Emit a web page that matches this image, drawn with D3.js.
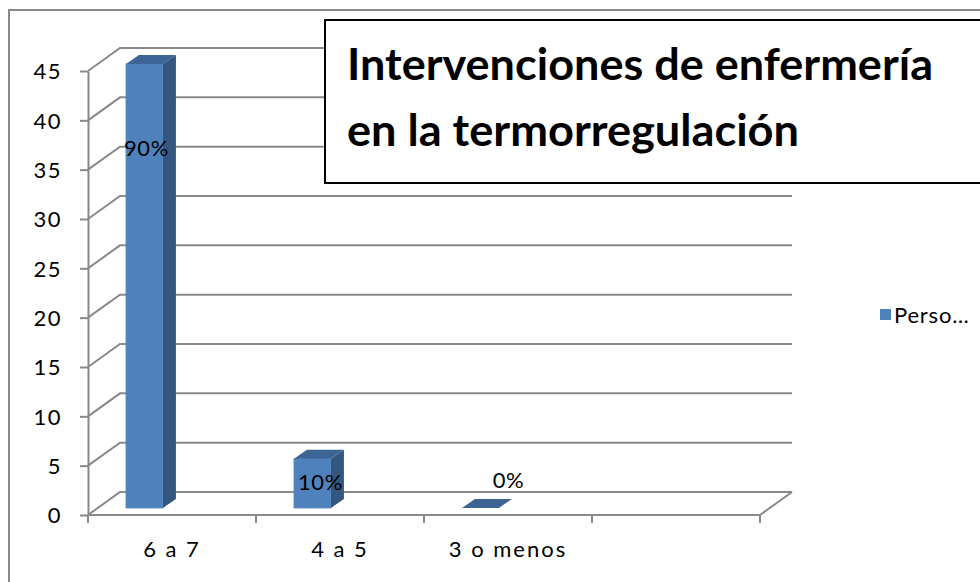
<!DOCTYPE html>
<html>
<head>
<meta charset="utf-8">
<script src="https://cdn.jsdelivr.net/npm/d3@7"></script>
<style>
  html, body { margin: 0; padding: 0; background: #fff; }
  svg { display: block; }
  text { font-family: Lato, "Noto Sans", sans-serif; }
</style>
</head>
<body>
<svg id="chart" width="980" height="582"></svg>
<script>
// ---- data ----
const categories = ["6 a 7", "4 a 5", "3 o menos"];
const values = [45, 5, 0];
const valueLabels = ["90%", "10%", "0%"];
const yTicks = [0, 5, 10, 15, 20, 25, 30, 35, 40, 45];
const seriesName = "Perso…";
const titleLines = ["Intervenciones de enfermería", "en la termorregulación"];

// ---- layout ----
const svg = d3.select("#chart");
const FONT = "Lato, 'Noto Sans', sans-serif";
const gridColor = "#898989";
const depth = { dx: 32, dy: -23 };       // back wall offset
const barDepth = { dx: 13, dy: -9 };     // bar depth
const barLift = 7;                       // bar base sits inside the floor

const slots = categories.concat([""]);   // 4th empty slot as in the original
const x = d3.scaleBand().domain(slots).range([88, 760]).padding(0);
const y = d3.scaleLinear().domain([0, 45]).range([515, 71]);

// outer chart border
svg.append("rect").attr("x", 9).attr("y", 10).attr("width", 1000).attr("height", 600)
  .attr("fill", "#fff").attr("stroke", gridColor).attr("stroke-width", 2);

// gridlines (side wall diagonal + back wall)
const gGrid = svg.append("g").attr("fill", "none").attr("stroke", gridColor).attr("stroke-width", 2);
const x0 = x.range()[0], x1 = x.range()[1];
yTicks.forEach(v => {
  const yy = y(v);
  gGrid.append("path").attr("d",
    `M${x0},${yy} L${x0 + depth.dx},${yy + depth.dy} L${x1 + depth.dx},${yy + depth.dy}`);
});
// floor front edge + right diagonal
gGrid.append("path").attr("d",
  `M${x0},${y(0)} L${x1},${y(0)} L${x1 + depth.dx},${y(0) + depth.dy}`);

// y axis
const yAxis = d3.axisLeft(y).tickValues(yTicks).tickSize(8).tickPadding(18).tickSizeOuter(0);
const gy = svg.append("g").attr("transform", `translate(${x0},0)`).call(yAxis);
gy.attr("font-family", FONT).attr("font-size", 22);
gy.select(".domain").attr("stroke", gridColor).attr("stroke-width", 2);
gy.selectAll(".tick line").attr("stroke", gridColor).attr("stroke-width", 2);
gy.selectAll(".tick text").attr("fill", "#000").attr("letter-spacing", 1.5).attr("dy", "0.36em");

// x axis ticks at slot boundaries
const gx = svg.append("g");
const bounds = slots.map(s => x(s)).concat([x1]);
gx.selectAll("line").data(bounds).join("line")
  .attr("x1", d => d).attr("x2", d => d)
  .attr("y1", y(0)).attr("y2", y(0) + 8)
  .attr("stroke", gridColor).attr("stroke-width", 2);
gx.selectAll("text").data(categories).join("text")
  .attr("x", d => x(d) + x.bandwidth() / 2).attr("y", 557)
  .attr("text-anchor", "middle").attr("font-size", 22).attr("fill", "#000")
  .attr("letter-spacing", 2)
  .attr("font-family", FONT)
  .text(d => d);

// bars (3D columns)
const bw = x.bandwidth();
const gBars = svg.append("g");
categories.forEach((c, i) => {
  const bx0 = x(c) + bw * 0.226;
  const bx1 = bx0 + bw * 0.22;
  const base = y(0) - barLift;
  const top = y(values[i]) - barLift;
  const ddx = barDepth.dx, ddy = barDepth.dy;
  if (values[i] > 0) {
    gBars.append("rect").attr("x", bx0).attr("y", top)
      .attr("width", bx1 - bx0).attr("height", base - top)
      .attr("fill", "#4F81BD").attr("stroke", "#5A8AC6").attr("stroke-width", 0.8);
    gBars.append("path").attr("d",
      `M${bx1},${top} L${bx1 + ddx},${top + ddy} L${bx1 + ddx},${base + ddy} L${bx1},${base} Z`)
      .attr("fill", "#34577F");
  }
  gBars.append("path").attr("d",
    `M${bx0},${top} L${bx0 + ddx},${top + ddy} L${bx1 + ddx},${top + ddy} L${bx1},${top} Z`)
    .attr("fill", "#3C6595");
});

// data labels
const labelShift = [{ dx: 2, y: 156 }, { dx: 8, y: 490 }, { dx: 28, y: 488 }];
categories.forEach((c, i) => {
  const cx = x(c) + bw * 0.226 + bw * 0.11;
  svg.append("text")
    .attr("x", cx + labelShift[i].dx).attr("y", labelShift[i].y)
    .attr("text-anchor", "middle").attr("font-size", 22).attr("fill", "#000")
    .attr("letter-spacing", 0.5)
    .attr("font-family", FONT)
    .text(valueLabels[i]);
});

// legend
svg.append("rect").attr("x", 880).attr("y", 309).attr("width", 11).attr("height", 11)
  .attr("fill", "#4F81BD");
svg.append("text").attr("x", 894).attr("y", 323).attr("font-size", 22).attr("fill", "#000")
  .attr("letter-spacing", 0.8)
  .attr("font-family", FONT)
  .text(seriesName);

// title box
svg.append("rect").attr("x", 325).attr("y", 20).attr("width", 700).attr("height", 163)
  .attr("fill", "#fff").attr("stroke", "#000").attr("stroke-width", 2);
const titleW = [586, 452];
const titleY = [80, 146];
titleLines.forEach((t, i) => {
  svg.append("text").attr("x", 347).attr("y", titleY[i])
    .attr("font-size", 43).attr("font-weight", "bold").attr("fill", "#000")
    .attr("font-family", FONT)
    .attr("textLength", titleW[i]).attr("lengthAdjust", "spacingAndGlyphs")
    .text(t);
});
</script>
</body>
</html>
